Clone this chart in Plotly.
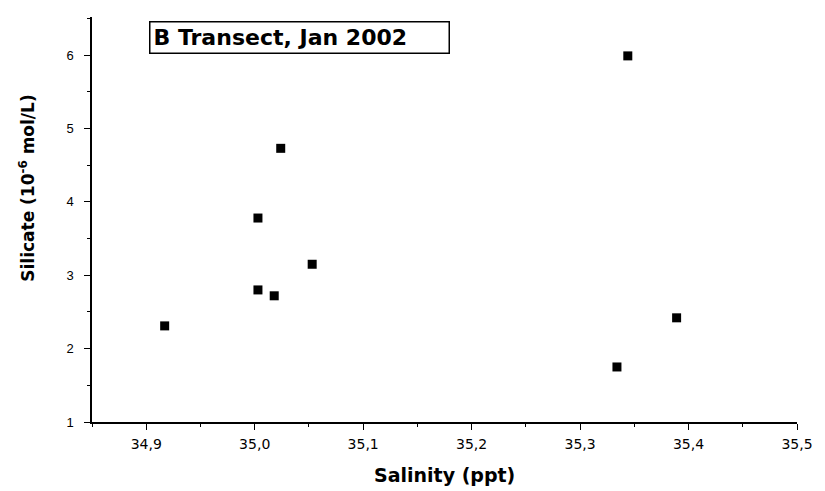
import plotly.graph_objects as go

salinity = [34.917, 35.003, 35.003, 35.018, 35.024, 35.053, 35.334, 35.344, 35.389]
silicate = [2.31, 3.78, 2.80, 2.72, 4.73, 3.15, 1.75, 5.99, 2.42]

x_tickvals = [34.9, 35.0, 35.1, 35.2, 35.3, 35.4, 35.5]
x_ticktext = ["34,9", "35,0", "35,1", "35,2", "35,3", "35,4", "35,5"]
y_tickvals = [1, 2, 3, 4, 5, 6]
y_ticktext = ["1", "2", "3", "4", "5", "6"]

fig = go.Figure()
fig.add_trace(go.Scatter(
    x=salinity, y=silicate, mode="markers",
    marker=dict(symbol="square", size=9, color="black"),
    showlegend=False,
))

font = "Liberation Sans, Arial, sans-serif"
bold = "DejaVu Sans, Arial Black, sans-serif"
fig.update_layout(
    width=825, height=491,
    margin=dict(l=92, r=19, t=17, b=69),
    paper_bgcolor="white", plot_bgcolor="white",
    font=dict(family=font, color="black"),
    xaxis=dict(
        range=[34.85, 35.5], tickvals=x_tickvals, ticktext=x_ticktext,
        showline=True, linecolor="black", linewidth=1.5,
        ticks="outside", ticklen=6, tickcolor="black",
        minor=dict(dtick=0.05, tick0=34.85, ticks="outside", ticklen=3, tickcolor="black"),
        showgrid=False, zeroline=False,
        tickfont=dict(size=14, family="DejaVu Sans, sans-serif"),
        ticklabelstandoff=2,
    ),
    yaxis=dict(
        range=[1, 6.52], tickvals=y_tickvals, ticktext=y_ticktext,
        showline=True, linecolor="black", linewidth=1.5,
        ticks="outside", ticklen=6, tickcolor="black",
        minor=dict(dtick=0.5, tick0=1, ticks="outside", ticklen=3, tickcolor="black"),
        showgrid=False, zeroline=False,
        tickfont=dict(size=13, family=font),
        ticklabelstandoff=8,
    ),
    annotations=[
        dict(
            text="<b>B Transect, Jan 2002</b>", xref="paper", yref="paper",
            x=0.294, y=0.949, xanchor="center", yanchor="middle", showarrow=False,
            font=dict(size=22, color="black", family=bold),
            bordercolor="black", borderwidth=1.5, borderpad=3, bgcolor="white",
            width=292, height=24, align="left",
        ),
        dict(
            text="<b>Salinity (ppt)</b>", xref="paper", yref="paper",
            x=0.5, y=-0.131, xanchor="center", yanchor="middle", showarrow=False,
            font=dict(size=19, color="black", family=bold),
        ),
        dict(
            text="<b>Silicate (10<sup>-6</sup> mol/L)</b>", xref="paper", yref="paper",
            x=-0.0924, y=0.578, xanchor="center", yanchor="middle", showarrow=False,
            textangle=-90,
            font=dict(size=17, color="black", family=bold),
        ),
    ],
)

fig.write_html("out.html")
